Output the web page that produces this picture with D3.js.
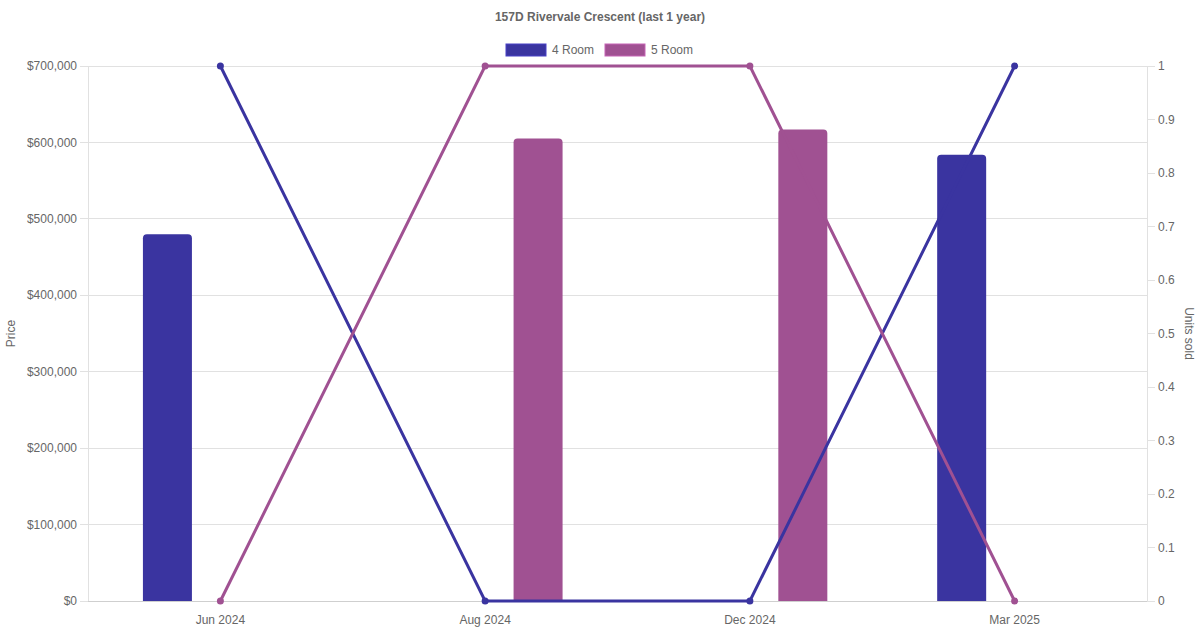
<!DOCTYPE html>
<html><head><meta charset="utf-8">
<script src="https://cdn.jsdelivr.net/npm/d3@7"></script>
<style>body{margin:0;background:#fff;font-family:"Liberation Sans",Arial,sans-serif;}</style>
</head><body><svg id="c" width="1200" height="630"></svg>
<script>
const categories = ["Jun 2024","Aug 2024","Dec 2024","Mar 2025"];
const seriesNames = ["4 Room","5 Room"];
const price4 = [480000, null, null, 584000];
const price5 = [null, 605000, 617000, null];
const units4 = [1, 0, 0, 1];
const units5 = [0, 1, 1, 0];
const priceTicks = [0,100000,200000,300000,400000,500000,600000,700000];
const unitTicks = [0,0.1,0.2,0.3,0.4,0.5,0.6,0.7,0.8,0.9,1];
const colors = ["#3a34a0","#a05192"];

const svg = d3.select("#c");
const L=88, R=1147, T=66, B=601;
const x = d3.scaleBand().domain(categories).range([L,R]);
const inner = d3.scaleBand().domain(seriesNames).range([0, x.bandwidth()*0.8]);
const yP = d3.scaleLinear().domain([0,700000]).range([B,T]);
const yU = d3.scaleLinear().domain([0,1]).range([B,T]);
const txt = "#666", grid = "#e1e1e1";

// grid
svg.append("g").selectAll("line").data(priceTicks).join("line")
  .attr("x1",L-8).attr("x2",R).attr("y1",d=>yP(d)).attr("y2",d=>yP(d))
  .attr("stroke",grid).attr("stroke-width",1).attr("shape-rendering","crispEdges");
// axes lines
svg.append("line").attr("x1",L).attr("x2",L).attr("y1",T).attr("y2",B).attr("stroke",grid).attr("shape-rendering","crispEdges");
svg.append("line").attr("x1",R).attr("x2",R).attr("y1",T).attr("y2",B).attr("stroke",grid).attr("shape-rendering","crispEdges");
svg.append("line").attr("x1",L).attr("x2",R).attr("y1",B).attr("y2",B).attr("stroke","#cfcfcf").attr("shape-rendering","crispEdges");
// right ticks
svg.append("g").selectAll("line").data(unitTicks).join("line")
  .attr("x1",R).attr("x2",R+8).attr("y1",d=>yU(d)).attr("y2",d=>yU(d)).attr("stroke",grid).attr("shape-rendering","crispEdges");

// labels
const fmt = d=>"$"+d3.format(",")(d);
svg.append("g").selectAll("text").data(priceTicks).join("text")
  .attr("x",L-11).attr("y",d=>yP(d)).attr("dy","0.35em").attr("text-anchor","end")
  .attr("fill",txt).attr("font-size",12).text(fmt);
svg.append("g").selectAll("text").data(unitTicks).join("text")
  .attr("x",R+11).attr("y",d=>yU(d)).attr("dy","0.35em").attr("text-anchor","start")
  .attr("fill",txt).attr("font-size",12).text(d=>d3.format("~g")(d));
svg.append("g").selectAll("text").data(categories).join("text")
  .attr("x",d=>x(d)+x.bandwidth()/2).attr("y",B+23).attr("text-anchor","middle")
  .attr("fill",txt).attr("font-size",12).text(d=>d);

svg.append("text").attr("transform",`translate(15,${(T+B)/2}) rotate(-90)`).attr("text-anchor","middle")
  .attr("fill",txt).attr("font-size",12).text("Price");
svg.append("text").attr("transform",`translate(1185,${(T+B)/2}) rotate(90)`).attr("text-anchor","middle")
  .attr("fill",txt).attr("font-size",12).text("Units sold");

svg.append("text").attr("x",600).attr("y",21).attr("text-anchor","middle").attr("fill",txt)
  .attr("font-size",12).attr("font-weight","bold").text("157D Rivervale Crescent (last 1 year)");

// bars
const barW = 49, rad = 4;
function barPath(cx, y0, y1){
  const xl = cx-barW/2, xr = cx+barW/2;
  return `M${xl},${y0}V${y1+rad}Q${xl},${y1} ${xl+rad},${y1}H${xr-rad}Q${xr},${y1} ${xr},${y1+rad}V${y0}Z`;
}
[price4, price5].forEach((arr,si)=>{
  svg.append("g").selectAll("path").data(arr.map((v,i)=>({v,c:categories[i]})).filter(d=>d.v!=null)).join("path")
    .attr("d",d=>barPath(x(d.c)+x.bandwidth()*0.1+inner(seriesNames[si])+inner.bandwidth()/2, yP(0), yP(d.v)))
    .attr("fill",colors[si]);
});

// lines
const line = d3.line().x((d,i)=>x(categories[i])+x.bandwidth()/2).y(d=>yU(d));
[units4, units5].forEach((arr,si)=>{
  svg.append("path").attr("d",line(arr)).attr("fill","none").attr("stroke",colors[si]).attr("stroke-width",3);
  svg.append("g").selectAll("circle").data(arr).join("circle")
    .attr("cx",(d,i)=>x(categories[i])+x.bandwidth()/2).attr("cy",d=>yU(d)).attr("r",3.5).attr("fill",colors[si]);
});

// legend
const lg = svg.append("g");
const lx = [506, 605];
seriesNames.forEach((n,i)=>{
  lg.append("rect").attr("x",lx[i]).attr("y",44).attr("width",40).attr("height",12)
    .attr("fill",colors[i]).attr("stroke",d3.color(colors[i]).brighter(0.6)).attr("stroke-width",1);
  lg.append("text").attr("x",lx[i]+46).attr("y",50).attr("dy","0.35em").attr("fill",txt).attr("font-size",12).text(n);
});
</script></body></html>
